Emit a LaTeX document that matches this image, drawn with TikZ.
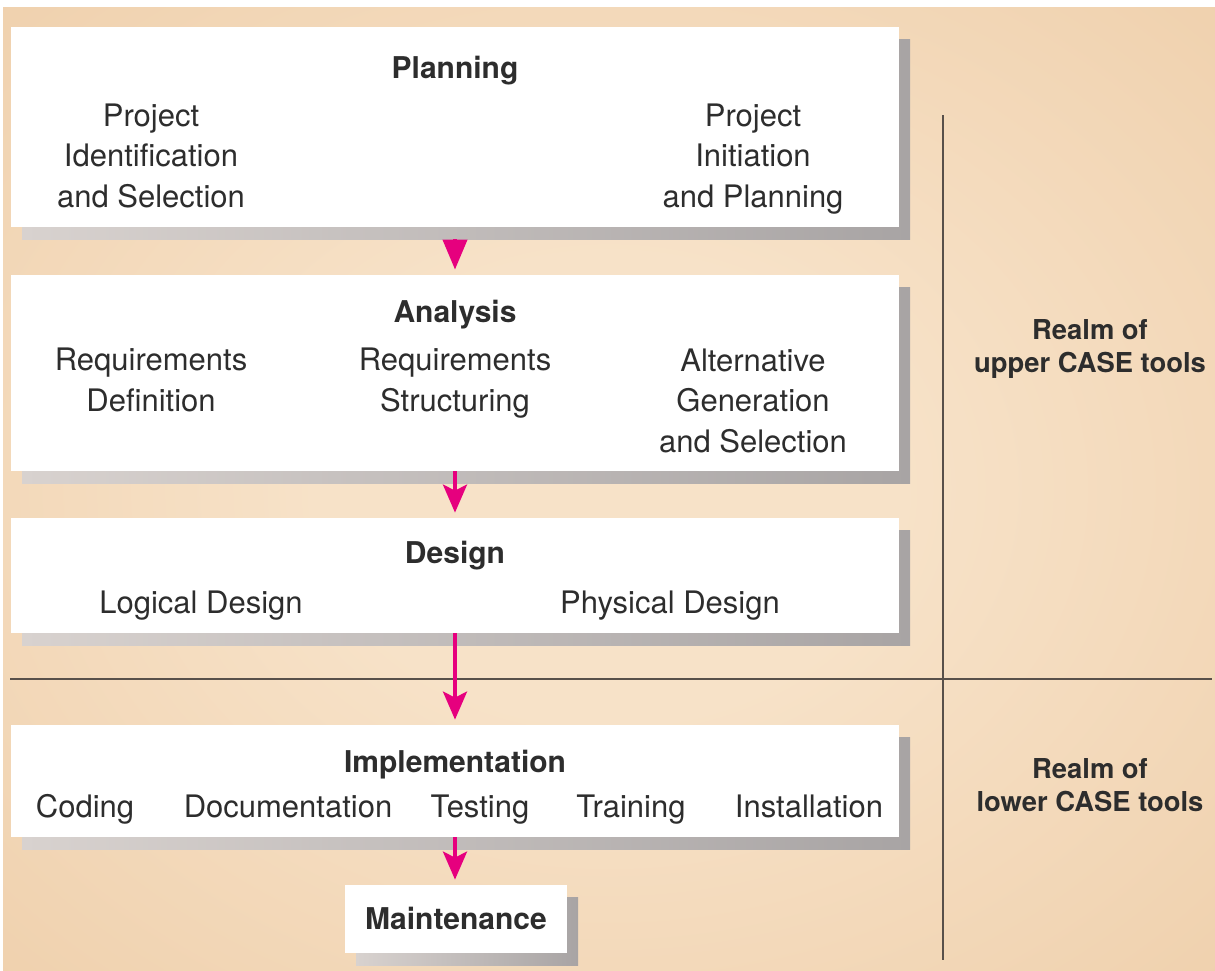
\documentclass[tikz,border=0pt]{standalone}
\usepackage{fontspec}
\setmainfont{TeX Gyre Heros}
\usetikzlibrary{arrows.meta,fit,shadows}

\definecolor{bgin}{RGB}{247,226,200}
\definecolor{bgout}{RGB}{231,189,143}
\definecolor{shadeL}{RGB}{216,210,207}
\definecolor{shadeR}{RGB}{168,164,164}
\definecolor{flowpink}{RGB}{230,0,126}
\definecolor{ink}{RGB}{45,45,45}
\definecolor{rulecol}{RGB}{88,80,74}
\pgfdeclareradialshading{peach}{\pgfpoint{0bp}{0bp}}{color(0bp)=(bgin); color(12bp)=(bgin); color(64bp)=(bgout)}

\tikzset{
  phase/.style={fill=white, inner sep=0pt, general shadow={left color=shadeL, right color=shadeR, shadow xshift=5.5pt, shadow yshift=-6pt}},
  ttl/.style={font=\bfseries\fontsize{15}{17}\selectfont, text=ink, inner sep=0pt, anchor=base},
  txt/.style={font=\fontsize{15.5}{20.25}\selectfont, text=ink, align=center, inner sep=0pt, anchor=base},
  realm/.style={font=\bfseries\fontsize{13.7}{16.5}\selectfont, text=ink, align=center, inner sep=0pt, anchor=base},
  flow/.style={draw=flowpink, line width=2pt, -{Stealth[length=14pt,width=12pt,inset=3pt]}, shorten >=2.5pt}
}

\begin{document}
\begin{tikzpicture}[x=0.5pt, y=-0.5pt]
\useasboundingbox (0,0) rectangle (1215,970);
\fill[white] (0,0) rectangle (1215,970);
\shade[shading=peach] (3,7) rectangle (1215,970);

% realm dividers
\coordinate (hl) at (10,679);
\coordinate (hr) at (1212,679);
\coordinate (vt) at (943,115);
\coordinate (vb) at (943,960);
\draw[rulecol, line width=1pt] (hl) -- (hr) (vt) -- (vb);

% phases
\node[phase, fit={(11,27) (899,227)}] (plan) {};
\node[phase, fit={(11,275) (899,471)}] (anal) {};
\node[phase, fit={(11,518) (899,633)}] (des) {};
\node[phase, fit={(11,725) (899,837)}] (impl) {};
\node[phase, fit={(345,885) (567,953)}] (maint) {};

% text (base = last line)
\node[ttl] (planT) at (455,78.5) {Planning};
\node[txt] (pis) at (151,207) {Project\\Identification\\and Selection};
\node[txt] (pip) at (753,207) {Project\\Initiation\\and Planning};

\node[ttl] (analT) at (455,322.5) {Analysis};
\node[txt] (rdef) at (151,411) {Requirements\\Definition};
\node[txt] (rstr) at (455,411) {Requirements\\Structuring};
\node[txt] (ags) at (753,452) {Alternative\\Generation\\and Selection};

\node[ttl] (desT) at (455,563.5) {Design};
\node[txt] (ldes) at (201,613) {Logical Design};
\node[txt] (pdes) at (670,613) {Physical Design};

\node[ttl] (implT) at (455,772.5) {Implementation};
\node[txt] (cod) at (85,817) {Coding};
\node[txt] (doc) at (288,817) {Documentation};
\node[txt] (tst) at (480,817) {Testing};
\node[txt] (trn) at (631,817) {Training};
\node[txt] (ins) at (809,817) {Installation};

\node[ttl] (maintT) at (456,929.5) {Maintenance};

\node[realm] (upper) at (1090,372) {Realm of\\upper CASE tools};
\node[realm] (lower) at (1090,811) {Realm of\\lower CASE tools};

% flow arrows
\draw[flow, -{Triangle[length=15pt,width=12pt]}, shorten <=6pt] (plan.south) -- (anal.north);
\draw[flow] (anal.south) -- (des.north);
\draw[flow] (des.south) -- (impl.north);
\draw[flow] (impl.south) -- (impl.south |- maint.north);
\end{tikzpicture}
\end{document}
